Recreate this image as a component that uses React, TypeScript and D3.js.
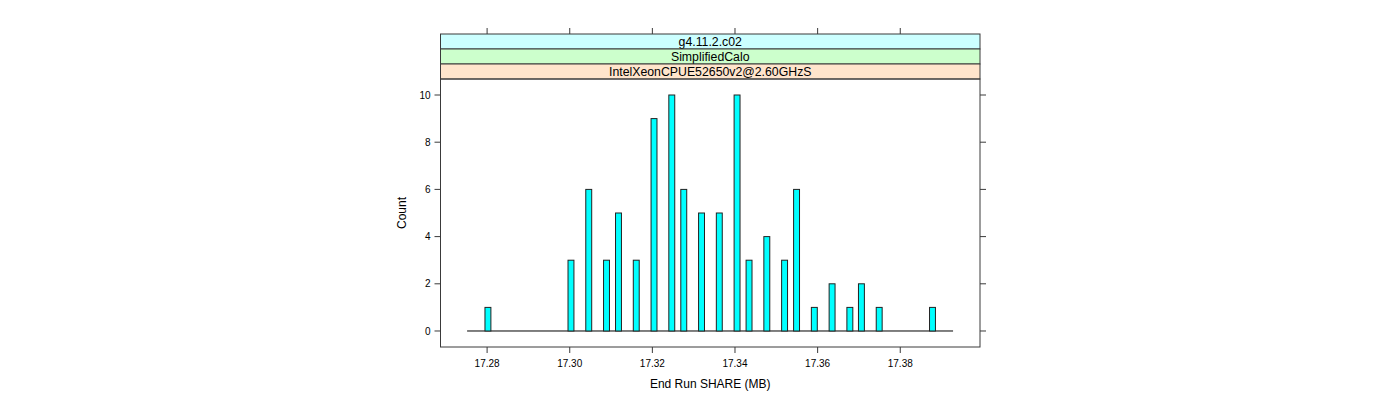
import React from "react";
import * as d3 from "d3";

// Histogram of End Run SHARE (MB): bin centres and counts
const binStart = 17.27516;
const binWidth = 0.0014344;
const binCount = 82;
const shareValues = [
  17.2802, 17.3003, 17.3046, 17.3089, 17.3118, 17.3161, 17.3204, 17.3247,
  17.3276, 17.3319, 17.3362, 17.3405, 17.3434, 17.3477, 17.352, 17.3549,
  17.3592, 17.3635, 17.3678, 17.3706, 17.3749, 17.3878,
];
const counts = [1, 3, 6, 3, 5, 3, 9, 10, 6, 5, 5, 10, 3, 4, 3, 6, 1, 2, 1, 2, 1, 1];
const xTicks = [17.28, 17.3, 17.32, 17.34, 17.36, 17.38];
const yTicks = [0, 2, 4, 6, 8, 10];
const stripLabels = ["g4.11.2.c02", "SimplifiedCalo", "IntelXeonCPUE52650v2@2.60GHzS"];
const stripColors = ["#CCFFFF", "#CCFFCC", "#FFE5CC"];
const xLabel = "End Run SHARE (MB)";
const yLabel = "Count";

const W = 1400;
const H = 400;
const panelLeft = 440.5;
const panelRight = 980;
const stripTop = 34;
const stripH = 15;
const panelTop = stripTop + stripH * stripLabels.length;
const panelBottom = 347;
const font = "'Liberation Sans', Arial, Helvetica, sans-serif";
const axisCol = "#3a3a3a";

export default function App() {
  const x = d3.scaleLinear().domain([17.26872, 17.3993]).range([panelLeft, panelRight]);
  const y = d3.scaleLinear().domain([-0.678, 10.678]).range([panelBottom, panelTop]);
  const fmt = d3.format(".2f");
  const binEnd = binStart + binWidth * binCount;
  return (
    <div style={{ position: "absolute", left: 0, top: 0 }}>
      <svg width={W} height={H} style={{ display: "block", background: "#fff" }}>
        {/* strips */}
        {stripLabels.map((s, i) => (
          <g key={s}>
            <rect
              x={panelLeft}
              y={stripTop + i * stripH}
              width={panelRight - panelLeft}
              height={stripH}
              fill={stripColors[i]}
              stroke={axisCol}
              strokeWidth={1}
            />
            <text
              x={(panelLeft + panelRight) / 2}
              y={stripTop + i * stripH + stripH / 2}
              dy="0.36em"
              textAnchor="middle"
              fontFamily={font}
              fontSize={12.3}
              fill="#000"
            >
              {s}
            </text>
          </g>
        ))}
        {/* panel box */}
        <rect
          x={panelLeft}
          y={panelTop}
          width={panelRight - panelLeft}
          height={panelBottom - panelTop}
          fill="none"
          stroke={axisCol}
          strokeWidth={1}
        />
        {/* baseline (zero-count bins) */}
        <line x1={x(binStart)} x2={x(binEnd)} y1={y(0)} y2={y(0)} stroke="#000" strokeWidth={1} />
        {/* bars */}
        {shareValues.map((v, i) => (
          <rect
            key={i}
            x={x(v - binWidth / 2)}
            y={y(counts[i])}
            width={x(v + binWidth / 2) - x(v - binWidth / 2)}
            height={y(0) - y(counts[i])}
            fill="#00FFFF"
            stroke="#222"
            strokeWidth={1}
          />
        ))}
        {/* x ticks bottom & top */}
        {xTicks.map((t) => (
          <g key={t}>
            <line x1={x(t)} x2={x(t)} y1={panelBottom} y2={panelBottom + 6} stroke={axisCol} />
            <line x1={x(t)} x2={x(t)} y1={stripTop} y2={stripTop - 6} stroke={axisCol} />
            <text
              x={x(t)}
              y={panelBottom + 16}
              dy="0.36em"
              textAnchor="middle"
              fontFamily={font}
              fontSize={10}
              fill="#000"
            >
              {fmt(t)}
            </text>
          </g>
        ))}
        {/* y ticks left & right */}
        {yTicks.map((t) => (
          <g key={t}>
            <line x1={panelLeft} x2={panelLeft - 6} y1={y(t)} y2={y(t)} stroke={axisCol} />
            <line x1={panelRight} x2={panelRight + 6} y1={y(t)} y2={y(t)} stroke={axisCol} />
            <text
              x={panelLeft - 10}
              y={y(t)}
              dy="0.36em"
              textAnchor="end"
              fontFamily={font}
              fontSize={10}
              fill="#000"
            >
              {t}
            </text>
          </g>
        ))}
        <text
          x={(panelLeft + panelRight) / 2}
          y={384}
          dy="0.36em"
          textAnchor="middle"
          fontFamily={font}
          fontSize={12}
          fill="#000"
        >
          {xLabel}
        </text>
        <text
          transform={`translate(402,${(panelTop + panelBottom) / 2}) rotate(-90)`}
          dy="0.36em"
          textAnchor="middle"
          fontFamily={font}
          fontSize={12}
          fill="#000"
        >
          {yLabel}
        </text>
      </svg>
    </div>
  );
}
